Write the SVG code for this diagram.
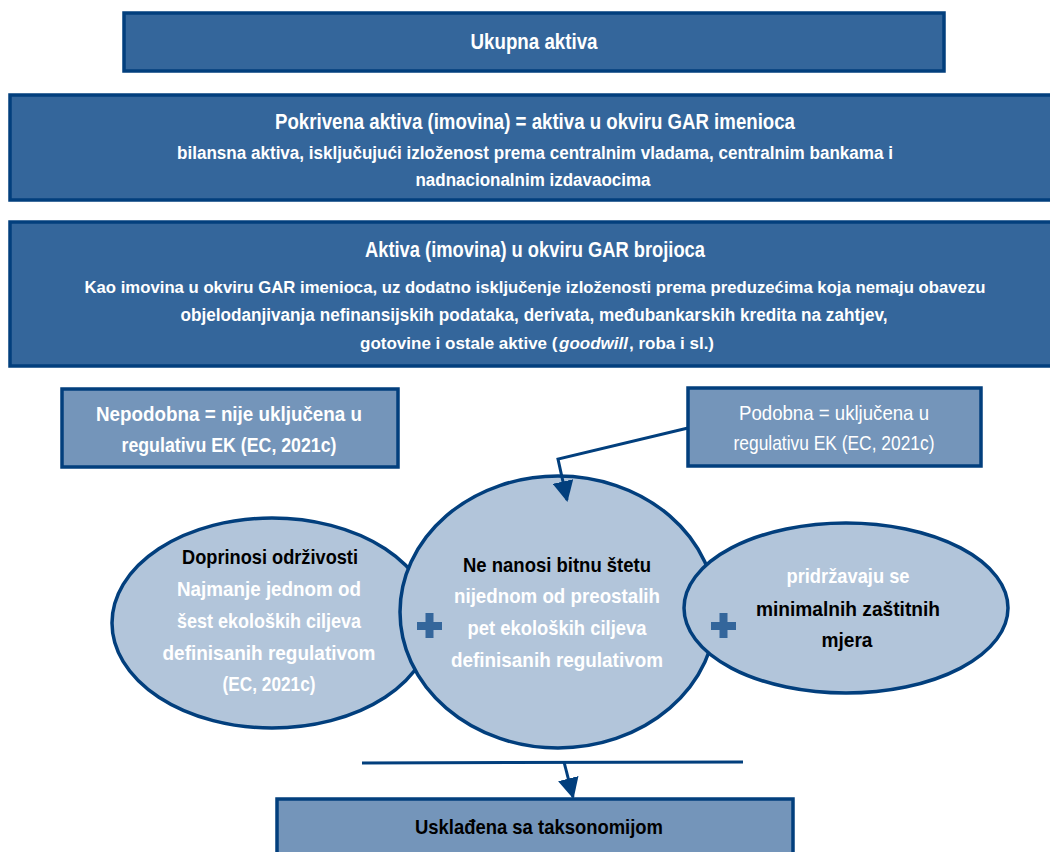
<svg xmlns="http://www.w3.org/2000/svg" width="1050" height="852" viewBox="0 0 1050 852">
<defs>
<style>
.dark{fill:#34669b;stroke:#023f7d;stroke-width:3.5}
.light{fill:#7495ba;stroke:#023f7d;stroke-width:3.5}
.ell{fill:#b2c5da;stroke:#023f7d;stroke-width:3.5}
text{font-family:"Liberation Sans",Arial,sans-serif;text-anchor:middle}
.st{text-anchor:start}
.w{fill:#ffffff}
.b{font-weight:bold}
.i{font-style:italic}
.k{fill:#000000}
.t1{font-size:22px}
.t3{font-size:21px}
.t2{font-size:18px}
.t4{font-size:16.5px}
.t5{font-size:17px}
.conn{fill:none;stroke:#023f7d;stroke-width:3}
.plus{fill:#34669b}
</style>
<marker id="ah" viewBox="0 0 10 10" refX="9" refY="5" markerWidth="7" markerHeight="7" markerUnits="strokeWidth" orient="auto">
<path d="M0,0 L10,5 L0,10 z" fill="#023f7d"/>
</marker>
</defs>
<rect width="1050" height="852" fill="#ffffff"/>

<g id="ukupna">
<rect class="dark" x="124" y="13" width="820" height="58"/>
<text class="w b t1" x="534" y="49" textLength="127" lengthAdjust="spacingAndGlyphs">Ukupna aktiva</text>
</g>

<g id="pokrivena">
<rect class="dark" x="10" y="95" width="1045" height="105"/>
<text class="w b t1" x="535" y="129" textLength="520" lengthAdjust="spacingAndGlyphs">Pokrivena aktiva (imovina) = aktiva u okviru GAR imenioca</text>
<text class="w b t2" x="535" y="159" textLength="716" lengthAdjust="spacingAndGlyphs">bilansna aktiva, isključujući izloženost prema centralnim vladama, centralnim bankama i</text>
<text class="w b t2" x="533" y="186" textLength="235" lengthAdjust="spacingAndGlyphs">nadnacionalnim izdavaocima</text>
</g>

<g id="brojioca">
<rect class="dark" x="10" y="222" width="1045" height="144"/>
<text class="w b t1" x="535" y="257" textLength="340" lengthAdjust="spacingAndGlyphs">Aktiva (imovina) u okviru GAR brojioca</text>
<text class="w b t4" x="535" y="293" textLength="901" lengthAdjust="spacingAndGlyphs">Kao imovina u okviru GAR imenioca, uz dodatno isključenje izloženosti prema preduzećima koja nemaju obavezu</text>
<text class="w b t2" x="534" y="321" textLength="707" lengthAdjust="spacingAndGlyphs">objelodanjivanja nefinansijskih podataka, derivata, međubankarskih kredita na zahtjev,</text>
<text class="w b t5 st" x="360" y="349">gotovine i ostale aktive (</text>
<text class="w b t5 st i" x="559" y="349">goodwill</text>
<text class="w b t5 st" x="629" y="349">, roba i sl.)</text>
</g>

<g id="nepodobna">
<rect class="light" x="62" y="389" width="336" height="78"/>
<text class="w b t3" x="229" y="421" textLength="266" lengthAdjust="spacingAndGlyphs">Nepodobna = nije uključena u</text>
<text class="w b t3" x="229" y="452" textLength="215" lengthAdjust="spacingAndGlyphs">regulativu EK (EC, 2021c)</text>
</g>

<g id="podobna">
<rect class="light" x="688" y="388" width="293" height="78"/>
<text class="w t3" x="834" y="420" textLength="190" lengthAdjust="spacingAndGlyphs">Podobna = uključena u</text>
<text class="w t3" x="834" y="450" textLength="201" lengthAdjust="spacingAndGlyphs">regulativu EK (EC, 2021c)</text>
</g>

<g id="doprinosi">
<ellipse class="ell" cx="272" cy="623" rx="160" ry="105"/>
<text class="k b t3" x="270" y="564" textLength="176" lengthAdjust="spacingAndGlyphs">Doprinosi održivosti</text>
<text class="w b t3" x="269" y="596" textLength="184" lengthAdjust="spacingAndGlyphs">Najmanje jednom od</text>
<text class="w b t3" x="269" y="628" textLength="184" lengthAdjust="spacingAndGlyphs">šest ekoloških ciljeva</text>
<text class="w b t3" x="269" y="660" textLength="213" lengthAdjust="spacingAndGlyphs">definisanih regulativom</text>
<text class="w b t3" x="269" y="691" textLength="93" lengthAdjust="spacingAndGlyphs">(EC, 2021c)</text>
</g>

<g id="nenanosi">
<ellipse class="ell" cx="558" cy="612" rx="158" ry="136"/>
<text class="k b t3" x="557" y="572" textLength="188" lengthAdjust="spacingAndGlyphs">Ne nanosi bitnu štetu</text>
<text class="w b t3" x="557" y="603" textLength="206" lengthAdjust="spacingAndGlyphs">nijednom od preostalih</text>
<text class="w b t3" x="557" y="635" textLength="179" lengthAdjust="spacingAndGlyphs">pet ekoloških ciljeva</text>
<text class="w b t3" x="557" y="667" textLength="212" lengthAdjust="spacingAndGlyphs">definisanih regulativom</text>
</g>

<g id="pridrzavaju">
<ellipse class="ell" cx="846" cy="608" rx="162" ry="85"/>
<text class="w b t3" x="848" y="583" textLength="123" lengthAdjust="spacingAndGlyphs">pridržavaju se</text>
<text class="k b t3" x="848" y="616" textLength="184" lengthAdjust="spacingAndGlyphs">minimalnih zaštitnih</text>
<text class="k b t3" x="847" y="647" textLength="51" lengthAdjust="spacingAndGlyphs">mjera</text>
</g>

<g id="plus1">
<rect class="plus" x="417" y="622" width="25" height="8"/>
<rect class="plus" x="425.5" y="613" width="8" height="25"/>
</g>
<g id="plus2">
<rect class="plus" x="711" y="622" width="25" height="8"/>
<rect class="plus" x="719.5" y="613" width="8" height="25"/>
</g>

<g id="uskladjena">
<rect class="light" x="277" y="799" width="516" height="60"/>
<text class="k b t3" x="539" y="834" textLength="248" lengthAdjust="spacingAndGlyphs">Usklađena sa taksonomijom</text>
</g>

<g id="connectors">
<polyline class="conn" points="688,428 558,459 567,500" marker-end="url(#ah)"/>
<line class="conn" x1="362" y1="763" x2="743" y2="762"/>
<line class="conn" x1="564" y1="762" x2="573" y2="797" marker-end="url(#ah)"/>
</g>
</svg>
